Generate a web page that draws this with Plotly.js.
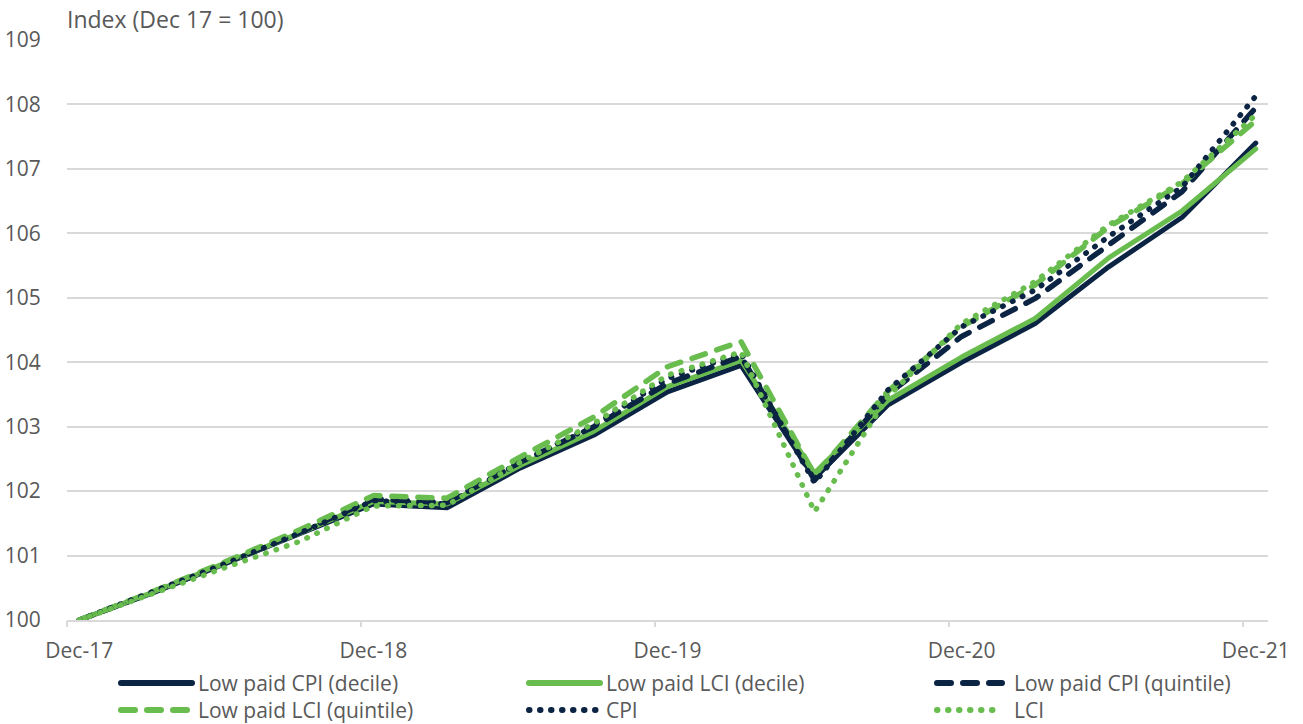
<!DOCTYPE html>
<html>
<head>
<meta charset="utf-8">
<script src="https://cdn.plot.ly/plotly-3.0.1.min.js"></script>
<style>
  html, body { margin: 0; padding: 0; background: #fff; }
  #chart { width: 1303px; height: 724px; }
  .scatterlayer path.js-line, .shapelayer path { stroke-linecap: round !important; stroke-linejoin: round !important; }
</style>
</head>
<body>
<div id="chart"></div>
<script>
// Quarterly index values, Dec 2017 = 100
const quarters = ['Dec-17','Mar-18','Jun-18','Sep-18','Dec-18','Mar-19','Jun-19','Sep-19','Dec-19',
                  'Mar-20','Jun-20','Sep-20','Dec-20','Mar-21','Jun-21','Sep-21','Dec-21'];

const lowPaidCpiDecile   = [100, 100.42, 100.88, 101.33, 101.80, 101.74, 102.36, 102.87, 103.54, 103.95, 102.20, 103.34, 104.00, 104.60, 105.48, 106.25, 107.40];
const lowPaidLciDecile   = [100, 100.43, 100.89, 101.35, 101.84, 101.80, 102.40, 102.93, 103.62, 104.03, 102.28, 103.41, 104.08, 104.68, 105.62, 106.35, 107.31];
const lowPaidCpiQuintile = [100, 100.43, 100.89, 101.36, 101.88, 101.82, 102.45, 103.00, 103.67, 104.09, 102.17, 103.50, 104.40, 104.99, 105.82, 106.65, 107.95];
const lowPaidLciQuintile = [100, 100.44, 100.91, 101.40, 101.93, 101.89, 102.53, 103.15, 103.93, 104.32, 102.25, 103.55, 104.55, 105.20, 106.10, 106.77, 107.75];
const cpi                = [100, 100.43, 100.88, 101.35, 101.85, 101.80, 102.45, 103.02, 103.75, 104.14, 102.13, 103.57, 104.55, 105.12, 105.95, 106.72, 108.13];
const lci                = [100, 100.42, 100.82, 101.22, 101.77, 101.78, 102.45, 103.05, 103.80, 104.16, 101.68, 103.47, 104.60, 105.25, 106.13, 106.80, 107.84];

const yearLabels = ['Dec-17','Dec-18','Dec-19','Dec-20','Dec-21'];

// Months elapsed since Dec-17 for each quarter (monthly date axis)
const months = quarters.map((q, i) => i * 3);
const yearTickMonths = yearLabels.map(l => quarters.indexOf(l) * 3);

const NAVY = '#0c2444';
const GREEN = '#69bd4f';
const GRID = '#d9d9d9';
const TEXT = '#595959';
const FONT = 'Open Sans, Noto Sans, sans-serif';

const DASH = '14px,12px';
const DOT = '0.5px,10.5px';

const series = [
  {name: 'Low paid CPI (decile)',   y: lowPaidCpiDecile,   color: NAVY,  dash: 'solid', width: 5},
  {name: 'Low paid LCI (decile)',   y: lowPaidLciDecile,   color: GREEN, dash: 'solid', width: 5},
  {name: 'Low paid CPI (quintile)', y: lowPaidCpiQuintile, color: NAVY,  dash: DASH,    width: 5.5},
  {name: 'Low paid LCI (quintile)', y: lowPaidLciQuintile, color: GREEN, dash: DASH,    width: 5.5},
  {name: 'CPI',                     y: cpi,                color: NAVY,  dash: DOT,     width: 5.5},
  {name: 'LCI',                     y: lci,                color: GREEN, dash: DOT,     width: 5.5}
];

const traces = series.map(s => ({
  type: 'scatter',
  mode: 'lines',
  name: s.name,
  x: months,
  y: s.y,
  text: quarters,
  line: {color: s.color, width: s.width, dash: s.dash},
  hovertemplate: '%{text}: %{y:.2f}<extra>' + s.name + '</extra>',
  showlegend: false
}));

// Trace on the overlay axis that carries the year-boundary tick marks
traces.push({
  type: 'scatter', mode: 'lines', x: [months[0]], y: [100],
  xaxis: 'x2', yaxis: 'y', hoverinfo: 'skip', showlegend: false,
  line: {color: 'rgba(0,0,0,0)'}
});

// Legend: three columns, two rows, drawn below the axis
const W = 1303, H = 724, ML = 67, MR = 35, MT = 40, MB = 104;
const PW = W - ML - MR, PH = H - MT - MB;
const px = v => (v - ML) / PW;
const py = v => (H - MB - v) / PH;

const legendCols = [{x0: 121, x1: 192, tx: 196}, {x0: 529, x1: 600, tx: 604}, {x0: 937, x1: 1002, tx: 1012}];
const legendRows = [683, 710];

const shapes = [];
const annotations = [];
series.forEach((s, i) => {
  const col = legendCols[i % 3];
  const row = legendRows[Math.floor(i / 3)];
  shapes.push({
    type: 'line', xref: 'paper', yref: 'paper',
    x0: px(col.x0), x1: px(col.x1), y0: py(row), y1: py(row),
    line: {color: s.color, width: 6, dash: s.dash}
  });
  annotations.push({
    xref: 'paper', yref: 'paper', x: px(col.tx), y: py(row),
    xanchor: 'left', yanchor: 'middle', showarrow: false,
    text: s.name, font: {family: FONT, size: 21, color: TEXT}
  });
});

const layout = {
  width: W, height: H,
  margin: {l: ML, r: MR, t: MT, b: MB},
  paper_bgcolor: '#fff', plot_bgcolor: '#fff',
  font: {family: FONT, size: 21, color: TEXT},
  title: {
    text: 'Index (Dec 17 = 100)',
    x: 67 / W, xanchor: 'left', xref: 'container',
    y: 1 - 20 / H, yanchor: 'middle', yref: 'container',
    font: {family: FONT, size: 23, color: TEXT}
  },
  xaxis: {
    range: [-0.5, 48.5],
    tickmode: 'array', tickvals: yearTickMonths, ticktext: yearLabels,
    ticks: 'outside', ticklen: 11, tickcolor: 'rgba(0,0,0,0)',
    showgrid: false, zeroline: false,
    showline: true, linecolor: GRID, linewidth: 1.5,
    tickfont: {family: FONT, size: 21, color: TEXT},
    fixedrange: true
  },
  xaxis2: {
    overlaying: 'x', anchor: 'y', side: 'bottom',
    range: [-0.5, 48.5],
    tickmode: 'array', tickvals: [-0.5, 11.5, 23.5, 35.5, 47.5],
    ticks: 'outside', ticklen: 6, tickwidth: 1.5, tickcolor: GRID,
    showticklabels: false, showgrid: false, zeroline: false, showline: false,
    fixedrange: true
  },
  yaxis: {
    range: [100, 109],
    tickmode: 'linear', tick0: 100, dtick: 1,
    showgrid: true, gridcolor: GRID, gridwidth: 1.5,
    zeroline: false, showline: false,
    ticks: 'outside', ticklen: 21, tickcolor: 'rgba(0,0,0,0)',
    tickfont: {family: FONT, size: 21, color: TEXT},
    fixedrange: true
  },
  shapes: shapes,
  annotations: annotations,
  showlegend: false
};

Plotly.newPlot('chart', traces, layout, {displayModeBar: false});
</script>
</body>
</html>
